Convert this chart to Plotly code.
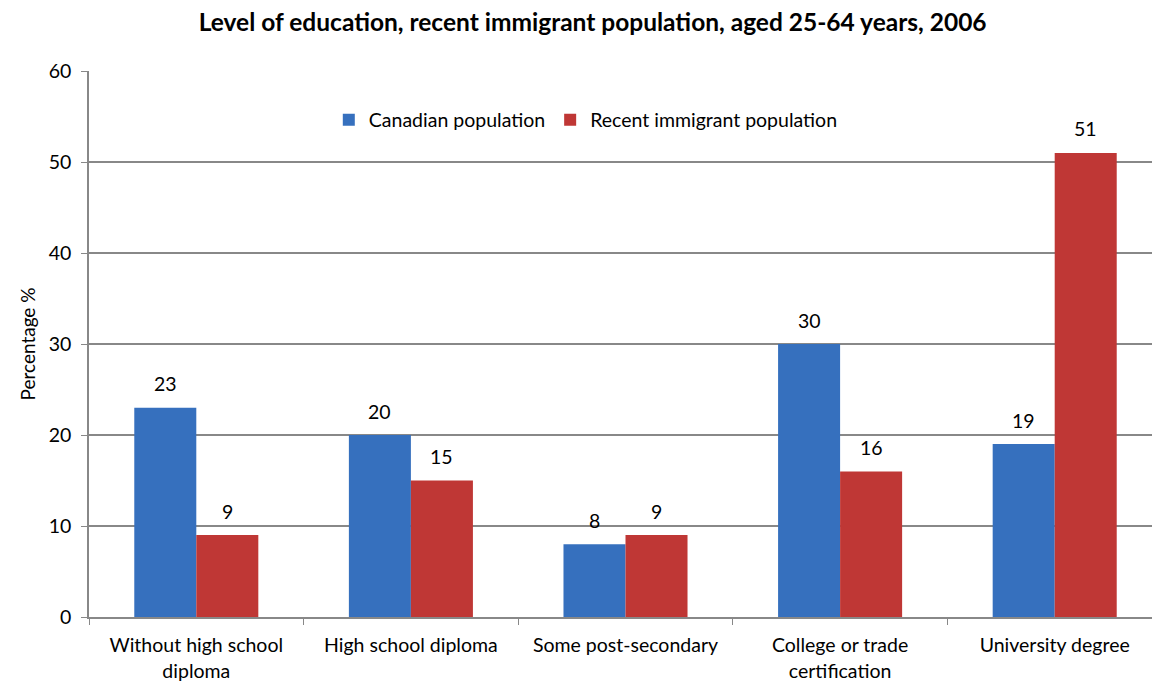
import plotly.graph_objects as go

categories = ["Without high school<br>diploma", "High school diploma", "Some post-secondary",
              "College or trade<br>certification", "University degree"]
canadian = [23, 20, 8, 30, 19]
immigrant = [9, 15, 9, 16, 51]
y_ticks = [0, 10, 20, 30, 40, 50, 60]

FONT = "Lato, 'Open Sans', sans-serif"
BLUE = "#3670BE"
RED = "#BF3735"

fig = go.Figure()
fig.add_trace(go.Bar(x=categories, y=canadian, name="Canadian population",
                     marker=dict(color=BLUE, line=dict(width=0))))
fig.add_trace(go.Bar(x=categories, y=immigrant, name="Recent immigrant population",
                     marker=dict(color=RED, line=dict(width=0))))

# value labels above bars
half_bar_px = 31
for series, shift in ((canadian, -half_bar_px), (immigrant, half_bar_px)):
    for c, v in zip(categories, series):
        fig.add_annotation(x=c, y=v, text=str(v), showarrow=False,
                           xshift=shift, yshift=24, yanchor="middle",
                           font=dict(size=19.5, color="#000"))

fig.update_layout(
    width=1160, height=673,
    margin=dict(l=81, r=6, t=63, b=64),
    paper_bgcolor="white", plot_bgcolor="white",
    font=dict(family=FONT, size=19.5, color="#000"),
    title=dict(text="<b>Level of education, recent immigrant population, aged 25-64 years, 2006</b>",
               x=0.504, xanchor="center", y=0.979, yanchor="middle",
               font=dict(size=24.5, color="#000")),
    barmode="group", bargap=0.422, bargroupgap=0,
    legend=dict(orientation="h", x=0.463, xanchor="center", y=0.91, yanchor="middle",
                font=dict(size=19.5), bgcolor="rgba(0,0,0,0)",
                traceorder="normal"),
    xaxis=dict(showline=True, linecolor="#888", linewidth=1.5, automargin=False,
               ticks="outside", tickson="boundaries", tickcolor="#888", ticklen=6,
               ticklabelstandoff=10,
               tickfont=dict(size=19.5), showgrid=False),
    yaxis=dict(range=[0, 60], tickvals=y_ticks, showline=True, linecolor="#888", linewidth=1.5,
               automargin=False,
               ticks="outside", tickcolor="#888", ticklen=6, ticklabelstandoff=6,
               showgrid=True, gridcolor="#888", gridwidth=1.5, zeroline=False,
               tickfont=dict(size=19.5),
               title=dict(text="Percentage %", font=dict(size=19), standoff=8)),
)

fig.write_html("out.html")
